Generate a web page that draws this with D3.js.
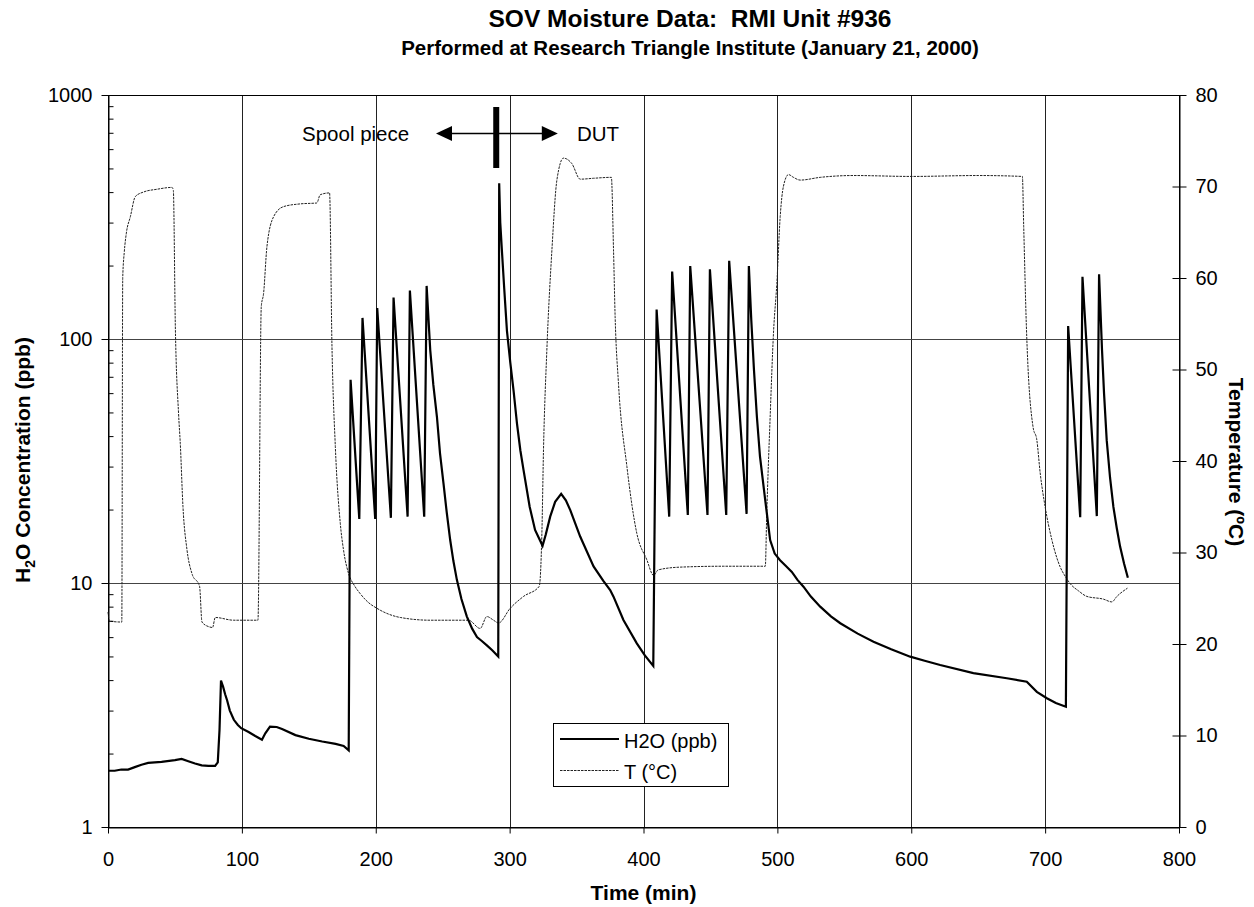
<!DOCTYPE html>
<html>
<head>
<meta charset="utf-8">
<script src="https://cdn.jsdelivr.net/npm/d3@7"></script>
<style>
  body { margin: 0; background: #fff; }
  svg text { font-family: "Liberation Sans", Arial, sans-serif; fill: #000; }
</style>
</head>
<body>
<script>
// H2O trace (time in min, ppb)
var h2oTime = [0, 5, 10, 15, 20, 25, 30, 40, 50, 55, 60, 65, 70, 75, 80, 82, 83.3, 84.4, 86, 87.5, 89, 91, 94, 97, 99.5, 105, 110, 115, 117.5, 121, 126, 130, 140, 150, 160, 170, 176, 179.8,
  181.2, 187.7, 190.1, 199.6, 201.1, 211.3, 213.3, 223.8, 225.5, 236.2, 238, 240.7, 243, 245.7, 248, 250.6, 253, 255.6, 258, 260.6, 264, 268, 272, 275.6, 279, 283, 287, 291.5,
  292.2, 293, 294.2, 296, 298, 300.5, 303, 305.5, 308, 310.4, 315, 319, 324.6, 327, 330.3, 334, 338.5, 342, 345.3, 352.7, 362.7, 370, 375.1, 377.6, 385, 395, 401, 407.3,
  409.8, 419.2, 421.4, 433.1, 434.9, 447.8, 449.6, 461.8, 464, 477, 478.7, 480.5, 482.5, 484.7, 487, 490.9, 494.6, 498, 502, 506, 510.8, 515, 519.5, 525, 532, 540, 547, 560, 571.8, 585, 599.2, 610, 621.6, 646.4, 671.4, 686.3, 693.8, 701.3, 708, 715.5,
  717.2, 726.2, 727.9, 738.6, 740.3, 742.5, 744, 746, 748.5, 751, 753.5, 756, 759, 761.8];
var h2oValue = [1.70, 1.70, 1.72, 1.72, 1.76, 1.80, 1.83, 1.85, 1.88, 1.90, 1.86, 1.82, 1.79, 1.78, 1.78, 1.84, 2.5, 3.98, 3.75, 3.5, 3.3, 3.0, 2.75, 2.62, 2.54, 2.45, 2.36, 2.28, 2.42, 2.58, 2.57, 2.52, 2.38, 2.30, 2.24, 2.19, 2.15, 2.06,
  68, 18.3, 122, 18.3, 134, 18.5, 148, 18.7, 158, 18.7, 165, 90, 65, 48, 34, 25.6, 19.5, 15, 12.3, 10.3, 8.6, 7.3, 6.5, 6.0, 5.8, 5.55, 5.3, 5.0,
  435, 300, 232, 160, 108, 80, 61, 45, 35, 29, 20.5, 16.5, 14.2, 15.8, 18.7, 21.5, 23.2, 21.8, 19.9, 15.5, 11.7, 10.2, 9.36, 8.79, 7.05, 5.66, 5.05, 4.57,
  132, 18.7, 189, 19, 199, 19, 193, 19, 209, 19.2, 199, 120, 75, 48, 33, 21.9, 15, 13.2, 12.4, 11.8, 11.1, 10.3, 9.66, 8.8, 8.0, 7.3, 6.84, 6.2, 5.75, 5.35, 4.99, 4.8, 4.61, 4.27, 4.07, 3.94, 3.58, 3.37, 3.22, 3.11,
  113, 18.6, 180, 18.8, 184, 90, 60, 38.5, 27, 20.5, 16.8, 14.1, 12, 10.5];

// temperature trace (time in min, deg C)
var tempTime = [0, 1, 10.3, 11, 12.2, 13.7, 16.7, 20.4, 26.6, 36.6, 47.8, 48.8, 50.3, 52.7, 54, 56, 59, 62.7, 68.4, 70.2, 75.1, 78.1, 80.1, 93.8, 112,
  114.5, 116.2, 118.7, 123.7, 131.1, 143.6, 156, 158.5, 165.5, 167.3, 169.8, 173.5, 176, 179.7, 184, 188.4, 194, 200.9, 218.3, 240.7, 269.3, 278, 283, 288, 291.7, 300.4, 310.4, 322.1,
  324.1, 325.3, 327.8, 331.6, 335.3, 340.2, 346.5, 352.7, 362.7, 376, 377.6, 378.8, 381.3, 387.6, 395, 402.5, 407.5, 411, 427.4, 460, 491,
  492, 494.6, 497.1, 499.6, 502.1, 504.5, 508.3, 512, 517, 532, 557, 600, 650, 683,
  684, 686, 691, 693.8, 696.3, 700, 705, 711.3, 715, 718.7, 725, 731.2, 743.6, 749.8, 753.6, 761.5];
var tempValue = [23.5, 22.5, 22.4, 60, 62.9, 64.9, 66.7, 68.9, 69.4, 69.7, 69.9, 69.6, 54.7, 45.2, 41.9, 35, 30.3, 27.7, 26.3, 22.4, 21.9, 21.8, 22.9, 22.6, 22.6,
  56.9, 58.3, 63.4, 66.7, 67.8, 68.1, 68.2, 69.1, 69.3, 52.5, 41.6, 33.2, 30.2, 27.7, 26.4, 25.5, 24.6, 23.9, 22.9, 22.6, 22.6, 21.7, 23, 22.6, 22.3, 23.9, 25.2, 26.3,
  32.1, 41.2, 52.1, 63.1, 70.7, 73.1, 72.5, 70.8, 70.9, 71, 63.1, 55.8, 48.5, 39.4, 32.1, 29.2, 27.5, 28.1, 28.4, 28.5, 28.5,
  33.9, 44.8, 54, 59.4, 66.7, 70, 71.3, 71.0, 70.7, 71, 71.2, 71.1, 71.2, 71.1,
  65.6, 54.7, 43.7, 42.3, 38.7, 35, 31.4, 28.4, 27.4, 26.6, 25.8, 25.2, 24.9, 24.6, 25.2, 26.1];

var xTicks = [0, 100, 200, 300, 400, 500, 600, 700, 800];
var yTicks = [1, 10, 100, 1000];
var tTicks = [0, 10, 20, 30, 40, 50, 60, 70, 80];

var W = 1254, H = 907;
// plot area edges (note: "top" is taken by window.top)
var pL = 108, pR = 1179, pT = 95, pB = 827;

var svg = d3.select("body").append("svg")
  .attr("width", W)
  .attr("height", H);

var x = d3.scaleLinear().domain([0, 800]).range([pL, pR]);
var y = d3.scaleLog().domain([1, 1000]).range([pB, pT]);
var yT = d3.scaleLinear().domain([0, 80]).range([pB, pT]);

// gridlines
svg.append("g").selectAll("line")
  .data(xTicks.slice(1, -1)).enter()
  .append("line")
  .attr("x1", function(d) { return Math.round(x(d)) + 0.5; })
  .attr("x2", function(d) { return Math.round(x(d)) + 0.5; })
  .attr("y1", pT).attr("y2", pB)
  .attr("stroke", "#222").attr("stroke-width", 1);
svg.append("g").selectAll("line")
  .data([10, 100]).enter()
  .append("line")
  .attr("y1", function(d) { return Math.round(y(d)) + 0.5; })
  .attr("y2", function(d) { return Math.round(y(d)) + 0.5; })
  .attr("x1", pL).attr("x2", pR)
  .attr("stroke", "#444").attr("stroke-width", 1);

// frame
svg.append("rect")
  .attr("x", pL + 0.5).attr("y", pT + 0.5)
  .attr("width", pR - pL).attr("height", pB - pT)
  .attr("fill", "none").attr("stroke", "#000");

// lines
var tempLine = d3.line()
  .x(function(d, i) { return x(tempTime[i]); })
  .y(function(d) { return yT(d); })
  .curve(d3.curveMonotoneX);
svg.append("path")
  .attr("d", tempLine(tempValue))
  .attr("fill", "none")
  .attr("stroke", "#222")
  .attr("stroke-width", 1)
  .attr("stroke-dasharray", "2.5,1");

var h2oLine = d3.line()
  .x(function(d, i) { return x(h2oTime[i]); })
  .y(function(d) { return y(d); });
svg.append("path")
  .attr("d", h2oLine(h2oValue))
  .attr("fill", "none")
  .attr("stroke", "#000")
  .attr("stroke-width", 2.2)
  .attr("stroke-linejoin", "miter");

// axes
var fs = "20px";
var gx = svg.append("g")
  .attr("transform", "translate(0," + (pB + 0.5) + ")")
  .call(d3.axisBottom(x).tickValues(xTicks).tickSize(6).tickSizeOuter(0).tickPadding(18));
var gy = svg.append("g")
  .attr("transform", "translate(" + (pL + 0.5) + ",0)")
  .call(d3.axisLeft(y).tickValues(yTicks).tickFormat(d3.format("d")).tickSize(7).tickSizeOuter(0).tickPadding(9));
// minor log ticks point inward
var minor = [];
[1, 10, 100].forEach(function(dec) {
  for (var k = 2; k <= 9; k++) minor.push(dec * k);
});
svg.append("g")
  .attr("transform", "translate(" + (pL + 0.5) + ",0)")
  .call(d3.axisRight(y).tickValues(minor).tickFormat("").tickSize(5).tickSizeOuter(0))
  .select(".domain").remove();
var gt = svg.append("g")
  .attr("transform", "translate(" + (pR + 0.5) + ",0)")
  .call(d3.axisRight(yT).tickValues(tTicks).tickSize(7).tickSizeOuter(0).tickPadding(9));
gt.selectAll(".tick line").attr("x1", -7);

[gx, gy, gt].forEach(function(g) {
  g.selectAll("text").style("font-size", fs).style("font-family", "Liberation Sans, Arial, sans-serif");
  g.selectAll("line, path").attr("stroke", "#000");
});

// titles
svg.append("text")
  .attr("x", 690).attr("y", 27)
  .attr("text-anchor", "middle")
  .style("font-size", "24.5px").style("font-weight", "bold")
  .text("SOV Moisture Data:\u00a0\u00a0RMI Unit #936");
svg.append("text")
  .attr("x", 690).attr("y", 55)
  .attr("text-anchor", "middle")
  .style("font-size", "20.5px").style("font-weight", "bold")
  .text("Performed at Research Triangle Institute (January 21, 2000)");

svg.append("text")
  .attr("x", 643.5).attr("y", 900)
  .attr("text-anchor", "middle")
  .style("font-size", "21px").style("font-weight", "bold")
  .text("Time (min)");

var yl = svg.append("text")
  .attr("transform", "translate(30,460) rotate(-90)")
  .attr("text-anchor", "middle")
  .style("font-size", "21px").style("font-weight", "bold");
yl.append("tspan").text("H");
yl.append("tspan").text("2").style("font-size", "14px").attr("dy", 5);
yl.append("tspan").text("O Concentration (ppb)").attr("dy", -5);

svg.append("text")
  .attr("transform", "translate(1229,462) rotate(90)")
  .attr("text-anchor", "middle")
  .style("font-size", "21px").style("font-weight", "bold")
  .text("Temperature (\u00baC)");

// spool piece / DUT annotation
var ay = 133.5;
svg.append("text").attr("x", 302).attr("y", 141).style("font-size", "20.5px").text("Spool piece");
svg.append("text").attr("x", 577).attr("y", 141).style("font-size", "20.5px").text("DUT");
svg.append("line")
  .attr("x1", x(245) + 14).attr("x2", x(336) - 14)
  .attr("y1", ay).attr("y2", ay)
  .attr("stroke", "#000").attr("stroke-width", 1.3);
svg.append("path")
  .attr("d", "M" + x(245) + "," + ay + "l16,-7.5v15z")
  .attr("fill", "#000");
svg.append("path")
  .attr("d", "M" + x(336) + "," + ay + "l-16,-7.5v15z")
  .attr("fill", "#000");
svg.append("rect")
  .attr("x", x(290) - 3).attr("y", 107)
  .attr("width", 6).attr("height", 61)
  .attr("fill", "#000");

// legend
var lg = svg.append("g").attr("transform", "translate(553,723)");
lg.append("rect")
  .attr("x", 0.5).attr("y", 0.5).attr("width", 175).attr("height", 63)
  .attr("fill", "#fff").attr("stroke", "#000");
lg.append("line").attr("x1", 7).attr("x2", 66).attr("y1", 16).attr("y2", 16)
  .attr("stroke", "#000").attr("stroke-width", 2.2);
lg.append("line").attr("x1", 7).attr("x2", 66).attr("y1", 47.5).attr("y2", 47.5)
  .attr("stroke", "#222").attr("stroke-width", 1).attr("stroke-dasharray", "2.5,1");
lg.append("text").attr("x", 71).attr("y", 25).style("font-size", "20px").text("H2O (ppb)");
lg.append("text").attr("x", 71).attr("y", 56).style("font-size", "20px").text("T (\u00b0C)");
</script>
</body>
</html>
